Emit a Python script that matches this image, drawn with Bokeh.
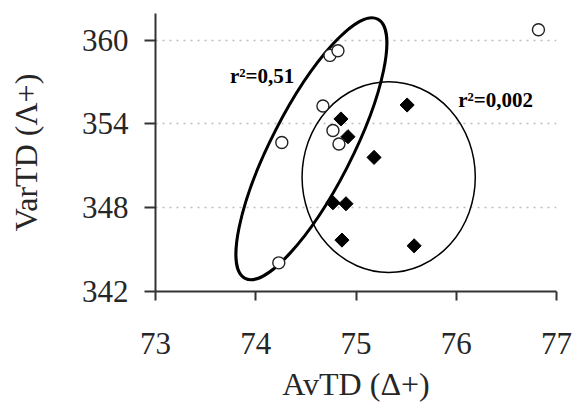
import math
from bokeh.plotting import figure
from bokeh.models import Range1d, FixedTicker, Label
from bokeh.embed import file_html
from bokeh.resources import INLINE

# ---- data ----
x_ticks = [73, 74, 75, 76, 77]
y_ticks = [342, 348, 354, 360]

# open circles
open_x = [74.23, 74.26, 74.67, 74.74, 74.77, 74.82, 74.83, 76.82]
open_y = [344.05, 352.67, 355.28, 358.90, 353.53, 359.23, 352.56, 360.74]

# filled diamonds
fill_x = [74.77, 74.85, 74.86, 74.90, 74.92, 75.18, 75.51, 75.58]
fill_y = [348.35, 354.35, 345.68, 348.28, 353.08, 351.60, 355.35, 345.27]

# group envelopes (center, width, height, angle in degrees)
env_open = dict(x=74.555, y=352.22, w=2.905, h=5.77, angle=62.9)
env_fill = dict(x=75.326, y=350.19, w=1.728, h=13.65, angle=0.0)

# annotations
r2_texts = ["r\u00b2=0,51", "r\u00b2=0,002"]
r2_x = [73.743, 76.02]
r2_y = [357.41, 355.72]

p = figure(width=573, height=406, output_backend="svg", toolbar_location=None,
           x_range=Range1d(73, 77), y_range=Range1d(342, 361.9),
           min_border_left=155, min_border_right=17, min_border_top=13,
           min_border_bottom=115, outline_line_color=None,
           background_fill_color="white", border_fill_color="white")

serif = "Liberation Serif"
ink = "#262626"

for ax in (p.xaxis[0], p.yaxis[0]):
    ax.axis_line_color = "#333333"
    ax.axis_line_width = 2
    ax.major_tick_line_color = "#333333"
    ax.major_tick_line_width = 2
    ax.minor_tick_line_color = None
    ax.major_tick_in = 0
    ax.major_label_text_font = serif
    ax.major_label_text_font_size = "31px"
    ax.major_label_text_color = ink
    ax.axis_label_text_font = serif
    ax.axis_label_text_font_size = "32px"
    ax.axis_label_text_font_style = "normal"
    ax.axis_label_text_color = ink

p.xaxis.ticker = FixedTicker(ticks=x_ticks)
p.yaxis.ticker = FixedTicker(ticks=y_ticks)
p.xaxis.major_tick_out = 9
p.yaxis.major_tick_out = 11
p.xaxis.major_label_standoff = 32
p.yaxis.major_label_standoff = 16
p.xaxis.axis_label = "AvTD (\u0394+)"
p.yaxis.axis_label = "VarTD (\u039b+)"
p.xaxis.axis_label_standoff = 9
p.yaxis.axis_label_standoff = 35

p.xgrid.visible = False
p.ygrid.ticker = FixedTicker(ticks=y_ticks[1:])
p.ygrid.grid_line_color = "#bdbdbd"
p.ygrid.grid_line_width = 1.5
p.ygrid.grid_line_dash = "2 5"

p.ellipse(x=[env_open["x"]], y=[env_open["y"]], width=[env_open["w"]],
          height=[env_open["h"]], angle=[math.radians(env_open["angle"])],
          fill_color=None, line_color="black", line_width=3)
p.ellipse(x=[env_fill["x"]], y=[env_fill["y"]], width=[env_fill["w"]],
          height=[env_fill["h"]], angle=[math.radians(env_fill["angle"])],
          fill_color=None, line_color="black", line_width=1.5)

p.scatter(fill_x, fill_y, marker="square", angle=math.pi / 4, size=10,
          fill_color="black", line_color="black")
p.scatter(open_x, open_y, marker="circle", size=12, fill_color="white",
          line_color="#222222", line_width=1.4)

for t, x, y in zip(r2_texts, r2_x, r2_y):
    p.add_layout(Label(x=x, y=y, text=t, text_font=serif, text_font_size="21px",
                       text_font_style="bold", text_color="black",
                       text_baseline="alphabetic", text_align="left"))

open("out.html", "w").write(file_html(p, INLINE))
